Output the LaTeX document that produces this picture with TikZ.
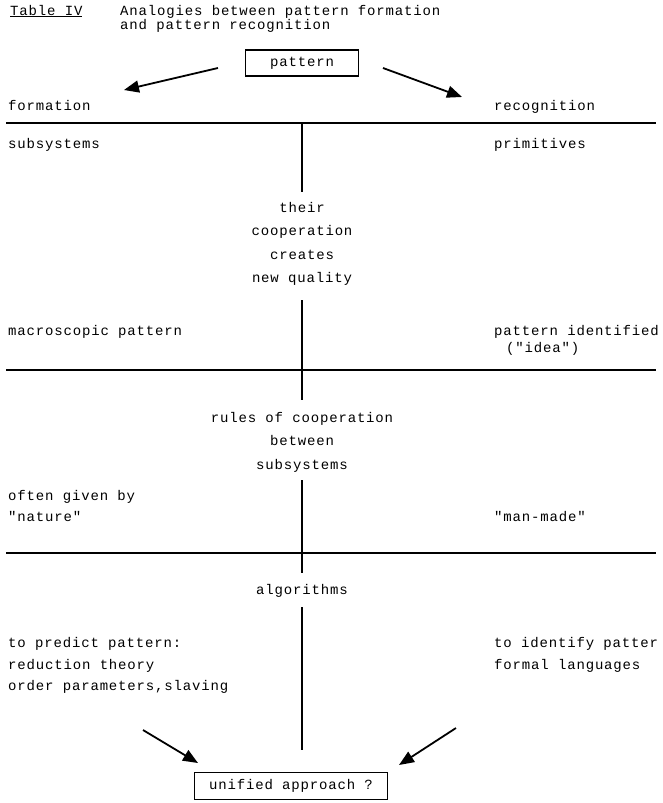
\documentclass[tikz,border=0pt]{standalone}
\usepackage{fontspec}
\newfontfamily\typew{Liberation Mono}[LetterSpace=6]
\usetikzlibrary{arrows.meta}
\begin{document}
\begin{tikzpicture}[x=1pt,y=-1pt,
  txt/.style={font=\typew\fontsize{14}{12}\selectfont, inner sep=0pt},
  lft/.style={txt, anchor=mid west},
  rgt/.style={txt, anchor=mid west},
  ctr/.style={txt, anchor=mid},
  rule/.style={line width=1.4pt},
  vrule/.style={line width=1.8pt},
  framebox/.style={txt, draw, line width=1.2pt, anchor=center},
  arr/.style={line width=1.8pt, -{Triangle[length=15pt,width=12pt]}}]
\useasboundingbox (0,0) rectangle (662,803);
% title
\node[lft] (tab) at (10,13) {\underline{Table IV}};
\node[lft] (ana1) at (120,13) {Analogies between pattern formation};
\node[lft] (ana2) at (120,27) {and pattern recognition};
% pattern box
\node[framebox, minimum width=113pt, minimum height=26pt] (pat) at (302,63) {pattern};
\coordinate (la0) at (218,68);
\coordinate (la1) at (124,90);
\coordinate (ra0) at (383,68);
\coordinate (ra1) at (462,97);
\draw[arr] (la0) -- (la1);
\draw[arr] (ra0) -- (ra1);
\node[lft] (form) at (8,108) {formation};
\node[rgt] (recog) at (494,108) {recognition};
% horizontal rules
\coordinate (h1a) at (6,123); \coordinate (h1b) at (656,123);
\coordinate (h2a) at (6,370); \coordinate (h2b) at (656,370);
\coordinate (h3a) at (6,553); \coordinate (h3b) at (656,553);
\draw[rule] (h1a) -- (h1b);
\draw[rule] (h2a) -- (h2b);
\draw[rule] (h3a) -- (h3b);
% vertical rule segments
\coordinate (v1a) at (302,123); \coordinate (v1b) at (302,192);
\coordinate (v2a) at (302,300); \coordinate (v2b) at (302,400);
\coordinate (v3a) at (302,480); \coordinate (v3b) at (302,573);
\coordinate (v4a) at (302,607); \coordinate (v4b) at (302,750);
\draw[vrule] (v1a) -- (v1b);
\draw[vrule] (v2a) -- (v2b);
\draw[vrule] (v3a) -- (v3b);
\draw[vrule] (v4a) -- (v4b);
% section 1
\node[lft] (subs) at (8,146) {subsystems};
\node[rgt] (prim) at (494,146) {primitives};
\node[ctr] (c1) at (302,210) {their};
\node[ctr] (c2) at (302,233) {cooperation};
\node[ctr] (c3) at (302,257) {creates};
\node[ctr] (c4) at (302,280) {new quality};
\node[lft] (macro) at (8,333) {macroscopic pattern};
\node[rgt] (ident) at (494,333) {pattern identified};
\node[rgt] (idea) at (506,350) {("idea")};
% section 2
\node[ctr] (r1) at (302,420) {rules of cooperation};
\node[ctr] (r2) at (302,443) {between};
\node[ctr] (r3) at (302,467) {subsystems};
\node[lft] (often) at (8,498) {often given by};
\node[lft] (nature) at (8,519) {"nature"};
\node[rgt] (man) at (494,519) {"man-made"};
% section 3
\node[ctr] (alg) at (302,592) {algorithms};
\node[lft] (p1) at (8,645) {to predict pattern:};
\node[lft] (p2) at (8,667) {reduction theory};
\node[lft] (p3) at (8,688) {order parameters,slaving};
\node[rgt] (q1) at (494,645) {to identify patter};
\node[rgt] (q2) at (494,667) {formal languages};
% bottom
\node[framebox, minimum width=193pt, minimum height=27pt] (uni) at (291,786) {unified approach ?};
\coordinate (lb0) at (143,730);
\coordinate (lb1) at (198,763);
\coordinate (rb0) at (456,728);
\coordinate (rb1) at (399,765);
\draw[arr] (lb0) -- (lb1);
\draw[arr] (rb0) -- (rb1);
\end{tikzpicture}
\end{document}
